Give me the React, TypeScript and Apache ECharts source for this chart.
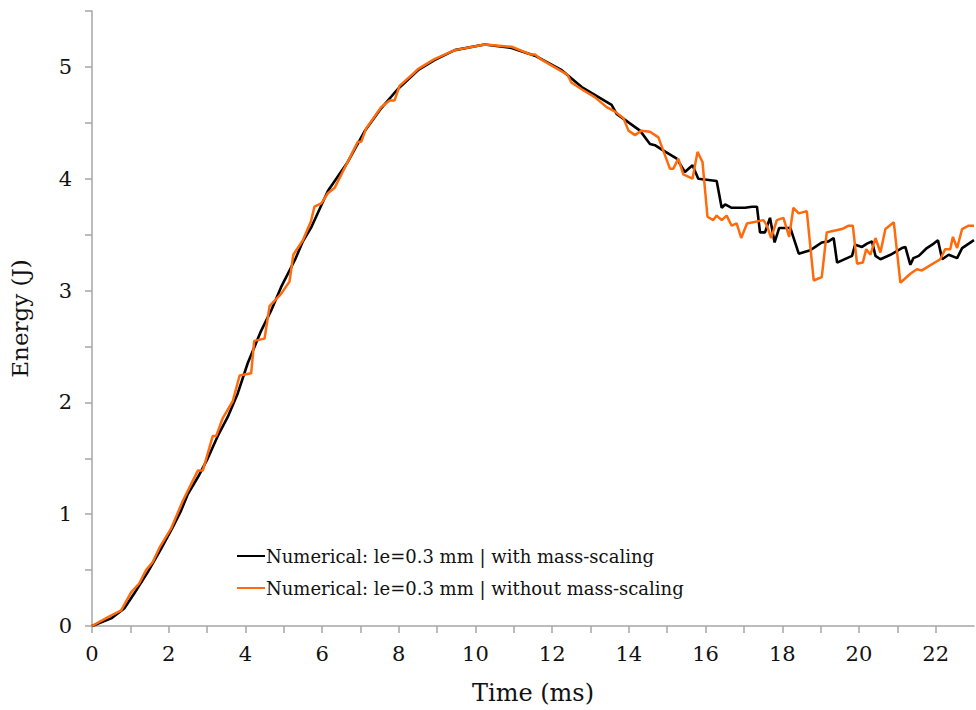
import React, { useEffect, useRef } from "react";
import * as echarts from "echarts";

const seriesNames = [
  "Numerical: le=0.3 mm | with mass-scaling",
  "Numerical: le=0.3 mm | without mass-scaling",
];

const withT = [0, 0.5, 0.84, 1.1, 1.45, 1.8, 2.1, 2.32, 2.5, 2.76, 3.02, 3.28, 3.54, 3.8, 4.06, 4.41, 4.67, 4.93, 5.3, 5.5, 5.71, 6.15, 6.67, 7.1, 7.54, 7.97, 8.5, 8.93, 9.46, 10.24, 10.94, 11.55, 12.25, 12.77, 13.55, 13.68, 14.29, 14.55, 14.68, 14.86, 15.25, 15.46, 15.66, 15.81, 16.29, 16.42, 16.51, 16.68, 17.03, 17.21, 17.34, 17.42, 17.55, 17.68, 17.8, 17.92, 18.21, 18.43, 18.73, 18.9, 19.03, 19.21, 19.34, 19.43, 19.82, 19.9, 20.08, 20.21, 20.34, 20.43, 20.56, 20.82, 21.12, 21.21, 21.34, 21.42, 21.56, 21.77, 21.95, 22.06, 22.17, 22.34, 22.56, 22.69, 22.95, 23.0];
const withE = [0, 0.068, 0.157, 0.29, 0.48, 0.69, 0.88, 1.03, 1.18, 1.33, 1.5, 1.7, 1.87, 2.08, 2.35, 2.64, 2.82, 3.03, 3.28, 3.44, 3.56, 3.89, 4.15, 4.42, 4.63, 4.8, 4.97, 5.06, 5.15, 5.2, 5.17, 5.1, 4.97, 4.82, 4.66, 4.58, 4.43, 4.31, 4.3, 4.26, 4.18, 4.06, 4.12, 4.0, 3.98, 3.74, 3.77, 3.74, 3.74, 3.75, 3.75, 3.52, 3.52, 3.65, 3.43, 3.56, 3.56, 3.33, 3.36, 3.4, 3.43, 3.44, 3.47, 3.25, 3.31, 3.41, 3.39, 3.42, 3.44, 3.31, 3.28, 3.32, 3.38, 3.39, 3.23, 3.29, 3.31, 3.38, 3.42, 3.45, 3.28, 3.32, 3.29, 3.38, 3.44, 3.45];

const withoutT = [0, 0.37, 0.76, 1.02, 1.23, 1.41, 1.58, 1.76, 2.06, 2.37, 2.76, 2.89, 3.15, 3.24, 3.41, 3.67, 3.85, 4.15, 4.23, 4.5, 4.63, 4.93, 5.15, 5.25, 5.5, 5.71, 5.8, 5.98, 6.15, 6.33, 6.93, 7.02, 7.15, 7.54, 7.76, 7.89, 8.02, 8.41, 8.5, 8.93, 9.46, 10.24, 10.94, 11.45, 11.55, 11.7, 12.25, 12.4, 12.5, 12.77, 13.11, 13.42, 13.64, 13.86, 13.99, 14.16, 14.33, 14.55, 14.77, 15.07, 15.16, 15.29, 15.42, 15.66, 15.79, 15.92, 16.05, 16.2, 16.29, 16.42, 16.55, 16.68, 16.81, 16.93, 17.08, 17.51, 17.6, 17.71, 17.86, 18.03, 18.18, 18.29, 18.43, 18.64, 18.82, 19.03, 19.16, 19.29, 19.56, 19.73, 19.84, 19.95, 20.1, 20.19, 20.3, 20.43, 20.56, 20.69, 20.91, 21.08, 21.34, 21.51, 21.64, 22.12, 22.25, 22.38, 22.45, 22.56, 22.69, 22.86, 23.0];
const withoutE = [0, 0.07, 0.14, 0.3, 0.38, 0.5, 0.57, 0.7, 0.87, 1.12, 1.39, 1.39, 1.7, 1.7, 1.86, 2.01, 2.24, 2.26, 2.55, 2.57, 2.86, 2.97, 3.08, 3.32, 3.45, 3.62, 3.75, 3.78, 3.87, 3.92, 4.33, 4.33, 4.45, 4.64, 4.7, 4.7, 4.83, 4.95, 4.98, 5.07, 5.15, 5.2, 5.18, 5.11, 5.11, 5.07, 4.96, 4.93, 4.86, 4.8, 4.73, 4.64, 4.6, 4.54, 4.43, 4.39, 4.43, 4.42, 4.37, 4.09, 4.09, 4.18, 4.04, 4.0, 4.24, 4.15, 3.66, 3.63, 3.67, 3.63, 3.67, 3.58, 3.6, 3.47, 3.6, 3.63, 3.58, 3.47, 3.63, 3.65, 3.48, 3.74, 3.69, 3.71, 3.09, 3.12, 3.52, 3.53, 3.55, 3.58, 3.58, 3.24, 3.25, 3.37, 3.32, 3.47, 3.34, 3.55, 3.61, 3.07, 3.15, 3.19, 3.18, 3.28, 3.37, 3.37, 3.48, 3.38, 3.55, 3.58, 3.58];

const xMin = 0;
const xMax = 23;
const yMin = 0;
const yMax = 5.5;

const zip = (a: number[], b: number[]) => a.map((v, i) => [v, b[i]]);

const FONT = "DejaVu Serif";
const AXIS_COLOR = "#a6a6a6";

export default function App() {
  const ref = useRef<HTMLDivElement>(null);
  useEffect(() => {
    if (!ref.current) return;
    const chart = echarts.init(ref.current, undefined, { renderer: "svg" });
    chart.setOption({
      animation: false,
      backgroundColor: "#ffffff",
      grid: { left: 91, right: 2, top: 11, bottom: 79 },
      legend: {
        orient: "vertical",
        left: 237,
        top: 547,
        padding: 0,
        itemWidth: 28,
        itemHeight: 14,
        itemGap: 14,
        icon: "path://M0,6 L28,6 L28,8 L0,8 Z",
        textStyle: { fontFamily: FONT, fontSize: 18, color: "#111", padding: [0, 0, 0, -4] },
        data: seriesNames,
      },
      xAxis: {
        type: "value",
        min: xMin,
        max: xMax,
        interval: 1,
        name: "Time (ms)",
        nameLocation: "middle",
        nameGap: 55,
        nameTextStyle: { fontFamily: FONT, fontSize: 24, color: "#111" },
        axisLine: { show: true, onZero: false, lineStyle: { color: AXIS_COLOR, width: 1.5 } },
        axisTick: { show: true, length: 7, lineStyle: { color: AXIS_COLOR, width: 1.5 } },
        axisLabel: {
          fontFamily: FONT,
          fontSize: 21,
          color: "#111",
          margin: 17,
          showMaxLabel: false,
          formatter: (v: number) => (Math.round(v) % 2 === 0 ? String(v) : ""),
        },
        splitLine: { show: false },
      },
      yAxis: {
        type: "value",
        min: yMin,
        max: yMax,
        interval: 0.5,
        name: "Energy (J)",
        nameLocation: "middle",
        nameGap: 61,
        nameRotate: 90,
        nameTextStyle: { fontFamily: FONT, fontSize: 23, color: "#111" },
        axisLine: { show: true, onZero: false, lineStyle: { color: AXIS_COLOR, width: 1.5 } },
        axisTick: { show: true, length: 7, lineStyle: { color: AXIS_COLOR, width: 1.5 } },
        axisLabel: {
          fontFamily: FONT,
          fontSize: 21,
          color: "#111",
          margin: 20,
          formatter: (v: number) => (Number.isInteger(v) ? String(v) : ""),
        },
        splitLine: { show: false },
      },
      series: [
        {
          name: seriesNames[0],
          type: "line",
          data: zip(withT, withE),
          symbol: "none",
          lineStyle: { color: "#000000", width: 2.6 },
          itemStyle: { color: "#000000" },
          z: 2,
        },
        {
          name: seriesNames[1],
          type: "line",
          data: zip(withoutT, withoutE),
          symbol: "none",
          lineStyle: { color: "#ff6a0a", width: 2.5 },
          itemStyle: { color: "#ff6a0a" },
          z: 3,
        },
      ],
    });
    return () => chart.dispose();
  }, []);
  return <div ref={ref} style={{ width: 976, height: 710, position: "absolute", left: 0, top: 0 }} />;
}
